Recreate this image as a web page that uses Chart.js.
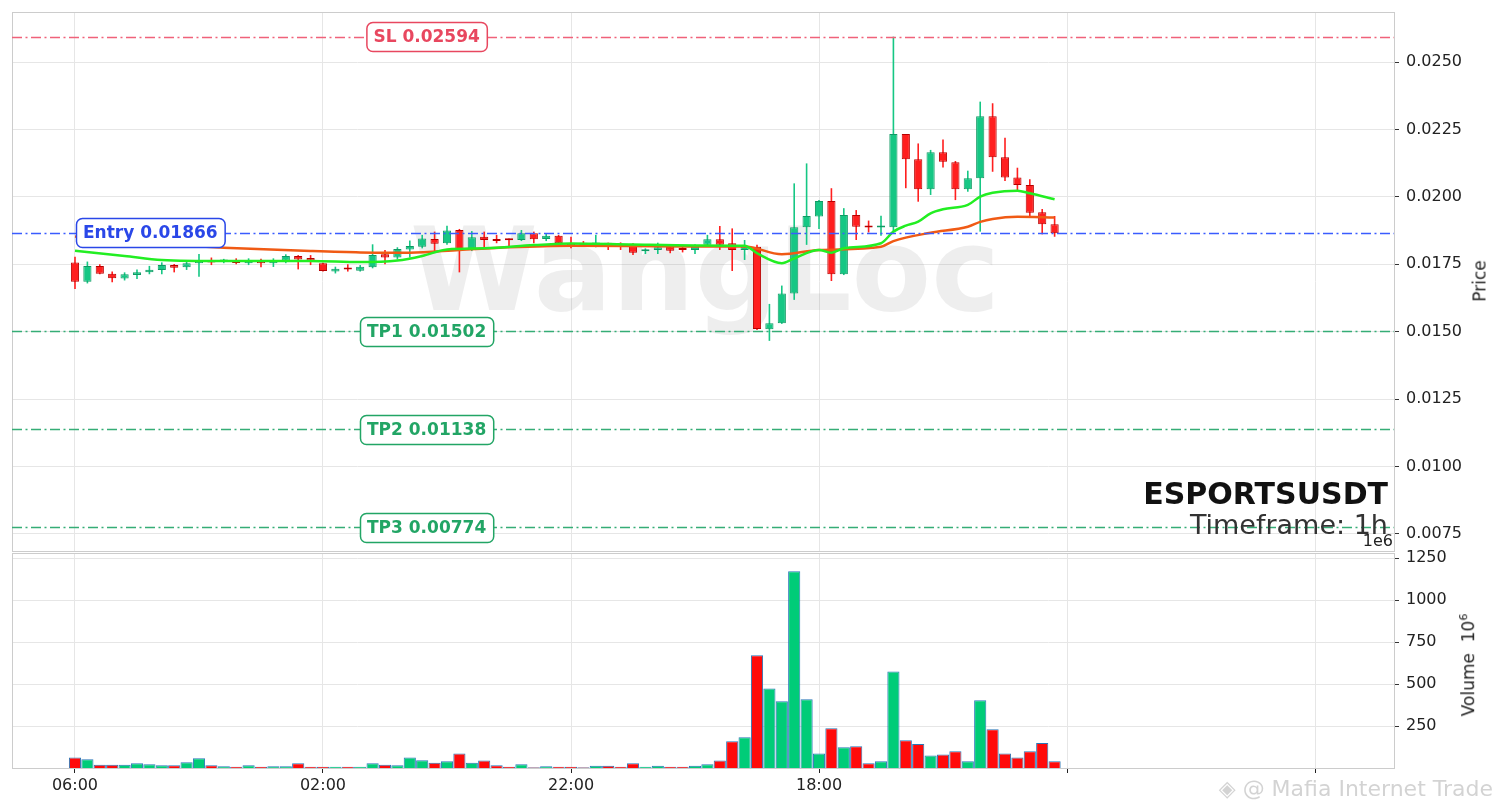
<!DOCTYPE html>
<html>
<head>
<meta charset="utf-8">
<title>ESPORTSUSDT 1h</title>
<script src="https://cdn.jsdelivr.net/npm/chart.js@4.4.1/dist/chart.umd.min.js"></script>
<style>
  html, body { margin: 0; padding: 0; background: #fff; }
  #wrap { position: relative; width: 1501px; height: 808px; overflow: hidden; font-family: "DejaVu Sans", sans-serif; }
  #priceChart { position: absolute; left: 0; top: 0; }
  #volumeChart { position: absolute; left: 0; top: 540px; }
  .txt { position: absolute; white-space: nowrap; color: #222; }
  #title { right: 113px; top: 479px; font-size: 30px; line-height: 30px; font-weight: bold; color: #111; }
  #timeframe { right: 113px; top: 511px; font-size: 27px; line-height: 27px; color: #333; }
  #offset { right: 108px; top: 533px; font-size: 16px; line-height: 16px; }
  .ylabel { font-size: 17px; line-height: 17px; transform: translate(-50%, -50%) rotate(-90deg); }
  #priceLabel { left: 1480px; top: 281px; }
  #volumeLabel { left: 1466px; top: 665px; }
  #footer { right: 8px; top: 778px; font-size: 22px; line-height: 22px; color: rgba(130, 130, 130, 0.35); }
</style>
</head>
<body>
<div id="wrap">
  <canvas id="priceChart" width="1501" height="552"></canvas>
  <canvas id="volumeChart" width="1501" height="268"></canvas>
  <div class="txt" id="title">ESPORTSUSDT</div>
  <div class="txt" id="timeframe">Timeframe: 1h</div>
  <div class="txt" id="offset">1e6</div>
  <div class="txt ylabel" id="priceLabel">Price</div>
  <div class="txt ylabel" id="volumeLabel">Volume&nbsp; 10<sup style="font-size:11px">6</sup></div>
  <div class="txt" id="footer">&#x25C8; @ Mafia Internet Trade</div>
</div>
<script>
// x ticks every 20 candles (1h candles)
const tickPositions = [0, 20, 40, 60, 80, 100];
const tickLabels = ["06:00", "02:00", "22:00", "18:00", "", ""];
const priceTicks = [0.0075, 0.0100, 0.0125, 0.0150, 0.0175, 0.0200, 0.0225, 0.0250];
const volumeTicks = [250, 500, 750, 1000, 1250];

const opens = [
  0.01757, 0.01685, 0.01744, 0.01715, 0.01697, 0.01710, 0.01720, 0.01729, 0.01747, 0.01739,
  0.01754, 0.01762, 0.01760, 0.01763, 0.01754, 0.01765, 0.01754, 0.01763, 0.01781, 0.01773,
  0.01754, 0.01723, 0.01735, 0.01726, 0.01739, 0.01787, 0.01775, 0.01805, 0.01815, 0.01844,
  0.01828, 0.01877, 0.01803, 0.01852, 0.01844, 0.01843, 0.01840, 0.01865, 0.01844, 0.01856,
  0.01828, 0.01829, 0.01823, 0.01828, 0.01822, 0.01818, 0.01798, 0.01803, 0.01815, 0.01809,
  0.01803, 0.01822, 0.01843, 0.01828, 0.01803, 0.01815, 0.01509, 0.01531, 0.01642, 0.01887,
  0.01927, 0.01985, 0.01713, 0.01933, 0.01892, 0.01886, 0.01887, 0.02233, 0.02139, 0.02028,
  0.02165, 0.02128, 0.02028, 0.02069, 0.02299, 0.02147, 0.02072, 0.02044, 0.01943, 0.01898
];
const highs = [
  0.01778, 0.01760, 0.01750, 0.01723, 0.01720, 0.01731, 0.01744, 0.01757, 0.01751, 0.01765,
  0.01788, 0.01775, 0.01770, 0.01772, 0.01772, 0.01770, 0.01772, 0.01787, 0.01784, 0.01784,
  0.01756, 0.01741, 0.01750, 0.01747, 0.01824, 0.01803, 0.01813, 0.01838, 0.01859, 0.01871,
  0.01893, 0.01881, 0.01873, 0.01871, 0.01859, 0.01846, 0.01877, 0.01871, 0.01865, 0.01859,
  0.01852, 0.01836, 0.01859, 0.01830, 0.01831, 0.01828, 0.01809, 0.01830, 0.01825, 0.01822,
  0.01824, 0.01859, 0.01892, 0.01883, 0.01840, 0.01822, 0.01603, 0.01671, 0.02050, 0.02124,
  0.01988, 0.02032, 0.01958, 0.01951, 0.01912, 0.01930, 0.02594, 0.02233, 0.02198, 0.02174,
  0.02213, 0.02133, 0.02097, 0.02353, 0.02347, 0.02219, 0.02108, 0.02065, 0.01955, 0.01929
];
const lows = [
  0.01658, 0.01679, 0.01713, 0.01683, 0.01690, 0.01695, 0.01713, 0.01713, 0.01720, 0.01729,
  0.01704, 0.01747, 0.01754, 0.01750, 0.01747, 0.01739, 0.01740, 0.01754, 0.01731, 0.01747,
  0.01723, 0.01716, 0.01723, 0.01723, 0.01735, 0.01750, 0.01768, 0.01775, 0.01809, 0.01799,
  0.01822, 0.01720, 0.01799, 0.01809, 0.01828, 0.01815, 0.01836, 0.01828, 0.01836, 0.01815,
  0.01809, 0.01818, 0.01813, 0.01803, 0.01803, 0.01784, 0.01788, 0.01788, 0.01791, 0.01794,
  0.01788, 0.01818, 0.01803, 0.01725, 0.01766, 0.01506, 0.01466, 0.01529, 0.01618, 0.01822,
  0.01881, 0.01688, 0.01710, 0.01840, 0.01868, 0.01856, 0.01871, 0.02032, 0.01982, 0.02007,
  0.02109, 0.01988, 0.02019, 0.01871, 0.02093, 0.02059, 0.02025, 0.01929, 0.01861, 0.01852
];
const closes = [
  0.01685, 0.01744, 0.01715, 0.01698, 0.01713, 0.01720, 0.01730, 0.01747, 0.01737, 0.01754,
  0.01763, 0.01757, 0.01763, 0.01755, 0.01763, 0.01754, 0.01763, 0.01781, 0.01768, 0.01764,
  0.01725, 0.01733, 0.01731, 0.01741, 0.01784, 0.01775, 0.01807, 0.01818, 0.01846, 0.01826,
  0.01875, 0.01803, 0.01850, 0.01840, 0.01836, 0.01839, 0.01865, 0.01843, 0.01856, 0.01828,
  0.01818, 0.01822, 0.01828, 0.01822, 0.01818, 0.01793, 0.01803, 0.01813, 0.01800, 0.01803,
  0.01818, 0.01843, 0.01822, 0.01803, 0.01815, 0.01510, 0.01531, 0.01642, 0.01887, 0.01929,
  0.01985, 0.01713, 0.01933, 0.01889, 0.01886, 0.01889, 0.02233, 0.02139, 0.02028, 0.02165,
  0.02130, 0.02028, 0.02069, 0.02299, 0.02147, 0.02072, 0.02044, 0.01941, 0.01898, 0.01865
];
// volume in millions
const volumes = [
  63, 52, 20, 20, 20, 28, 22, 16, 16, 34, 58, 16, 10, 8, 16, 8, 10, 10, 28, 8,
  8, 8, 8, 8, 28, 20, 16, 63, 46, 32, 40, 87, 32, 44, 16, 8, 22, 4, 10, 8,
  8, 4, 14, 14, 8, 28, 8, 14, 8, 8, 14, 22, 44, 159, 183, 671, 474, 397, 1171, 409,
  87, 236, 123, 129, 28, 40, 575, 165, 143, 75, 81, 99, 40, 403, 230, 87, 63, 99, 149, 40
];

// moving average lines, read at these candle positions
const fastIdx = [0, 4, 7, 12, 19, 23, 26, 28, 30, 33, 37, 40, 45, 50, 54, 55, 57, 58, 60, 61, 62, 65, 66, 67, 68, 69, 70, 72, 73, 74, 76, 77, 79];
const fastVal = [0.01800, 0.01781, 0.01766, 0.01762, 0.01762, 0.01758, 0.01764, 0.01781, 0.01805, 0.01809, 0.01821, 0.01827, 0.01823, 0.01820, 0.01819, 0.01791, 0.01754, 0.01772, 0.01803, 0.01793, 0.01809, 0.01828, 0.01871, 0.01893, 0.01908, 0.01939, 0.01954, 0.01970, 0.02001, 0.02015, 0.02023, 0.02013, 0.01991];
const slowIdx = [0, 5, 10, 12, 19, 23, 27, 31, 35, 40, 49, 54, 57, 60, 65, 66, 69, 72, 73, 74, 76, 79];
const slowVal = [0.01853, 0.01829, 0.01816, 0.01811, 0.01799, 0.01794, 0.01793, 0.01803, 0.01813, 0.01819, 0.01816, 0.01816, 0.01787, 0.01803, 0.01815, 0.01836, 0.01867, 0.01889, 0.01907, 0.01918, 0.01926, 0.01923];

const levelNames = ["SL", "Entry", "TP1", "TP2", "TP3"];
const levelValues = [0.02594, 0.01866, 0.01502, 0.01138, 0.00774];
const levelColors = ["#e8475f", "#2a47e8", "#22a565", "#22a565", "#22a565"];
const levelLineColors = ["#f0627a", "#3a5cff", "#35ad76", "#35ad76", "#35ad76"];

const xMin = -5.08;
const xMax = 106.37;
const priceMin = 0.006868;
const priceMax = 0.026854;
const volumeMax = 1280;

const FONT = "DejaVu Sans";
const gridColor = "#e6e6e6";
const upFill = "#16c784";
const upEdge = "#0f9a63";
const downFill = "#ff1f1f";
const downEdge = "#b80000";

const isUp = opens.map((o, i) => closes[i] >= o);

function fixRightAxis(scale) {
  scale.width = 107;
  scale.paddingTop = 0;
  scale.paddingBottom = 0;
}

const framePlugin = {
  id: "frame",
  beforeDatasetsDraw(chart) {
    const { ctx, chartArea: a } = chart;
    ctx.save();
    ctx.strokeStyle = "#cccccc";
    ctx.lineWidth = 1;
    ctx.strokeRect(Math.round(a.left) + 0.5, Math.round(a.top) + 0.5, Math.round(a.right - a.left), Math.round(a.bottom - a.top));
    ctx.restore();
  }
};

const watermarkPlugin = {
  id: "watermark",
  beforeDatasetsDraw(chart) {
    const { ctx } = chart;
    ctx.save();
    ctx.font = "bold 116px " + FONT;
    ctx.fillStyle = "rgba(120, 120, 120, 0.13)";
    ctx.textAlign = "center";
    ctx.textBaseline = "alphabetic";
    ctx.fillText("WangLoc", 705, 310);
    ctx.restore();
  }
};

function roundRect(ctx, x, y, w, h, r) {
  ctx.beginPath();
  ctx.moveTo(x + r, y);
  ctx.arcTo(x + w, y, x + w, y + h, r);
  ctx.arcTo(x + w, y + h, x, y + h, r);
  ctx.arcTo(x, y + h, x, y, r);
  ctx.arcTo(x, y, x + w, y, r);
  ctx.closePath();
}

const levelsPlugin = {
  id: "levels",
  afterDatasetsDraw(chart) {
    const { ctx, chartArea: a, scales } = chart;
    ctx.save();
    levelValues.forEach((value, i) => {
      const y = Math.round(scales.y.getPixelForValue(value)) + 0.5;
      ctx.strokeStyle = levelLineColors[i];
      ctx.lineWidth = 1.3;
      ctx.setLineDash([10, 3.5, 2, 3.5]);
      ctx.beginPath();
      ctx.moveTo(a.left, y);
      ctx.lineTo(a.right, y);
      ctx.stroke();
    });
    ctx.setLineDash([]);
    levelValues.forEach((value, i) => {
      const y = scales.y.getPixelForValue(value);
      const text = levelNames[i] + " " + value.toFixed(5);
      ctx.font = "bold 17px " + FONT;
      const w = ctx.measureText(text).width + 14;
      const h = 29;
      let left;
      if (levelNames[i] === "Entry") {
        left = scales.x.getPixelForValue(0) + 1;
      } else {
        left = a.left + (a.right - a.left) * 0.3 - w / 2;
      }
      roundRect(ctx, left + 0.5, Math.round(y - h / 2) + 0.5, w, h, 6);
      ctx.fillStyle = "#ffffff";
      ctx.fill();
      ctx.strokeStyle = levelColors[i];
      ctx.lineWidth = 1.5;
      ctx.stroke();
      ctx.fillStyle = levelColors[i];
      ctx.textAlign = "center";
      ctx.textBaseline = "middle";
      ctx.fillText(text, left + w / 2, y + 1);
    });
    ctx.restore();
  }
};

function xScale(showLabels) {
  return {
    type: "linear",
    min: xMin,
    max: xMax,
    offset: false,
    afterBuildTicks: (s) => { s.ticks = tickPositions.map((v) => ({ value: v })); },
    afterFit: (s) => { s.height = showLabels ? 40 : 0; s.paddingLeft = 0; s.paddingRight = 0; },
    ticks: {
      display: showLabels,
      callback: (v) => tickLabels[tickPositions.indexOf(v)],
      font: { family: FONT, size: 16 },
      color: "#222",
      padding: 3,
      maxRotation: 0,
      autoSkip: false
    },
    grid: { color: gridColor, offset: false, drawTicks: showLabels, tickColor: "#222", tickLength: 5 },
    border: { display: false }
  };
}

function createPriceChart() {
  const idx = opens.map((_, i) => i);
  new Chart(document.getElementById("priceChart"), {
    type: "bar",
    data: {
      datasets: [
        {
          type: "line",
          label: "fast",
          data: fastIdx.map((x, i) => ({ x, y: fastVal[i] })),
          borderColor: "#22ee22",
          borderWidth: 2.5,
          pointRadius: 0,
          cubicInterpolationMode: "monotone",
          order: 1
        },
        {
          type: "line",
          label: "slow",
          data: slowIdx.map((x, i) => ({ x, y: slowVal[i] })),
          borderColor: "#f05a14",
          borderWidth: 2.5,
          pointRadius: 0,
          cubicInterpolationMode: "monotone",
          order: 1
        },
        {
          label: "body",
          data: idx.map((i) => ({ x: i, y: [opens[i], closes[i]] })),
          backgroundColor: idx.map((i) => (isUp[i] ? upFill : downFill)),
          borderColor: idx.map((i) => (isUp[i] ? upEdge : downEdge)),
          borderWidth: 1,
          borderSkipped: false,
          minBarLength: 2,
          grouped: false,
          barPercentage: 0.66,
          categoryPercentage: 1,
          order: 2
        },
        {
          label: "wick",
          data: idx.map((i) => ({ x: i, y: [lows[i], highs[i]] })),
          backgroundColor: idx.map((i) => (isUp[i] ? upFill : downFill)),
          borderWidth: 0,
          grouped: false,
          barPercentage: 0.13,
          categoryPercentage: 1,
          order: 3
        }
      ]
    },
    options: {
      responsive: false,
      animation: false,
      layout: { padding: { left: 12, top: 12, right: 0, bottom: 1 } },
      plugins: { legend: { display: false }, tooltip: { enabled: false } },
      scales: {
        x: xScale(false),
        y: {
          position: "right",
          min: priceMin,
          max: priceMax,
          afterBuildTicks: (s) => { s.ticks = priceTicks.map((v) => ({ value: v })); },
          afterFit: fixRightAxis,
          ticks: {
            callback: (v) => Number(v).toFixed(4),
            font: { family: FONT, size: 16 },
            color: "#222",
            padding: 7
          },
          grid: { color: gridColor, tickColor: "#333", tickLength: 5 },
          border: { display: false }
        }
      }
    },
    plugins: [framePlugin, watermarkPlugin, levelsPlugin]
  });
}

function createVolumeChart() {
  const idx = volumes.map((_, i) => i);
  new Chart(document.getElementById("volumeChart"), {
    type: "bar",
    data: {
      datasets: [
        {
          label: "volume",
          data: idx.map((i) => ({ x: i, y: volumes[i] })),
          backgroundColor: idx.map((i) => (isUp[i] ? "#00cc78" : "#ff0a0a")),
          borderColor: "#2a78b8",
          borderWidth: 1,
          barPercentage: 0.98,
          categoryPercentage: 1
        }
      ]
    },
    options: {
      responsive: false,
      animation: false,
      layout: { padding: { left: 12, top: 13, right: 0, bottom: 0 } },
      plugins: { legend: { display: false }, tooltip: { enabled: false } },
      scales: {
        x: xScale(true),
        y: {
          position: "right",
          min: 0,
          max: volumeMax,
          afterBuildTicks: (s) => { s.ticks = volumeTicks.map((v) => ({ value: v })); },
          afterFit: fixRightAxis,
          ticks: {
            callback: (v) => String(v),
            font: { family: FONT, size: 16 },
            color: "#222",
            padding: 7
          },
          grid: { color: gridColor, tickColor: "#333", tickLength: 5 },
          border: { display: false }
        }
      }
    },
    plugins: [framePlugin]
  });
}

createPriceChart();
createVolumeChart();
</script>
</body>
</html>
